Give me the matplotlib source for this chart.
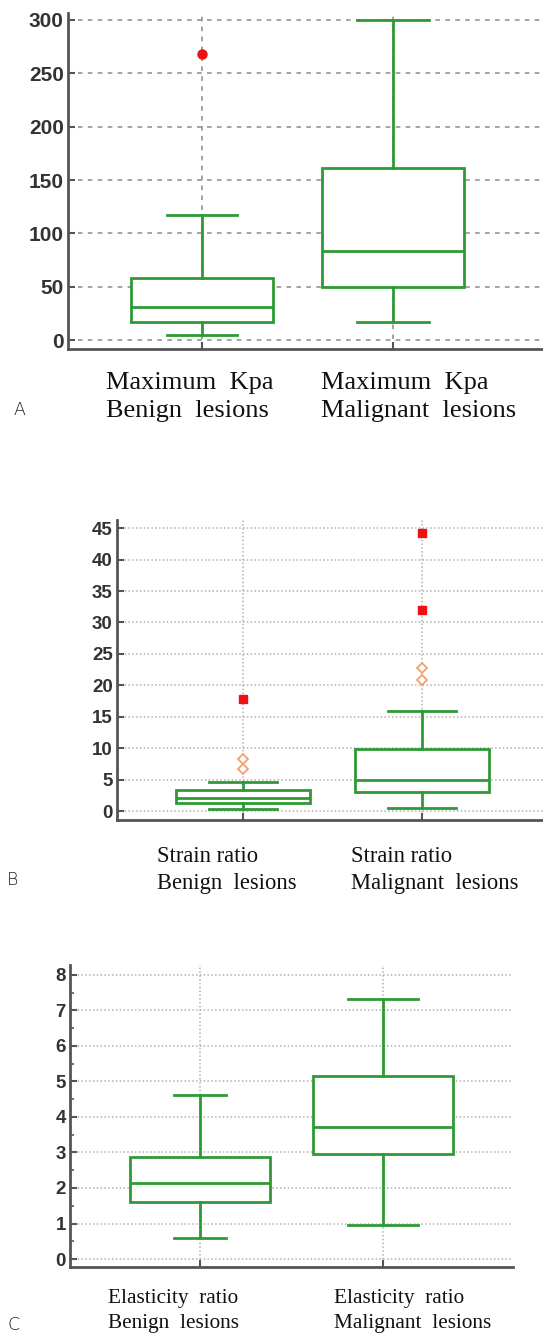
import matplotlib
matplotlib.use("Agg")
import matplotlib.pyplot as plt
from matplotlib.ticker import MultipleLocator

W, H = 543, 1334

# panel A - Maximum Kpa
kpa_labels = ["Maximum  Kpa\nBenign  lesions", "Maximum  Kpa\nMalignant  lesions"]
kpa_low = [5, 17]
kpa_q1 = [17, 50]
kpa_med = [31, 83]
kpa_q3 = [58, 161]
kpa_high = [117, 300]
kpa_far = [[268], []]
kpa_near = [[], []]

# panel B - strain ratio
sr_labels = ["Strain ratio\nBenign  lesions", "Strain ratio\nMalignant  lesions"]
sr_low = [0.3, 0.4]
sr_q1 = [1.2, 3.0]
sr_med = [2.1, 5.0]
sr_q3 = [3.3, 9.8]
sr_high = [4.6, 15.9]
sr_far = [[17.9], [32.0, 44.3]]
sr_near = [[6.7, 8.2], [20.8, 22.8]]

# panel C - elasticity ratio
er_labels = ["Elasticity  ratio\nBenign  lesions", "Elasticity  ratio\nMalignant  lesions"]
er_low = [0.6, 0.97]
er_q1 = [1.6, 2.95]
er_med = [2.15, 3.72]
er_q3 = [2.88, 5.15]
er_high = [4.62, 7.32]
er_far = [[], []]
er_near = [[], []]

green = "#2f9a35"
fig = plt.figure(figsize=(W / 100, H / 100), dpi=100)


def px_axes(left, top, right, bottom):
    return fig.add_axes([left / W, 1 - bottom / H, (right - left) / W, (bottom - top) / H])


def panel(ax, low, q1, med, q3, high, far, near, ylim, yticks, xlim, widths, caps,
          grid_ls, grid_col, tick_fs, marker, ms):
    stats = []
    for i in range(2):
        stats.append(dict(whislo=low[i], q1=q1[i], med=med[i], q3=q3[i], whishi=high[i], fliers=[]))
    ax.grid(True, linestyle=grid_ls, color=grid_col, linewidth=1.1, zorder=0)
    ax.set_axisbelow(True)
    lp = dict(color=green, linewidth=2)
    ax.bxp(stats, positions=[1, 2], widths=widths, capwidths=caps, showfliers=False,
           patch_artist=True,
           boxprops=dict(facecolor="white", edgecolor=green, linewidth=2),
           medianprops=lp, whiskerprops=lp, capprops=lp, zorder=3)
    for i in range(2):
        if far[i]:
            ax.plot([i + 1] * len(far[i]), far[i], marker, color="#ee1111",
                    markersize=ms, zorder=4, clip_on=False)
        if near[i]:
            ax.plot([i + 1] * len(near[i]), near[i], "D", mfc="white", mec="#f4a070",
                    markersize=5, mew=1.3, zorder=4)
    ax.set_xlim(*xlim)
    ax.set_ylim(*ylim)
    ax.set_yticks(yticks)
    ax.set_xticks([1, 2])
    ax.set_xticklabels(["", ""])
    for s in ["top", "right"]:
        ax.spines[s].set_visible(False)
    for s in ["left", "bottom"]:
        ax.spines[s].set_color("#555555")
        ax.spines[s].set_linewidth(2)
    ax.tick_params(direction="in", length=5, width=1.5, color="#555555", pad=3,
                   labelsize=tick_fs, labelcolor="#333333")
    for t in ax.get_yticklabels():
        t.set_fontweight("bold")
        t.set_family("Liberation Sans")


axA = px_axes(68, 12.5, 543, 349)
panel(axA, kpa_low, kpa_q1, kpa_med, kpa_q3, kpa_high, kpa_far, kpa_near,
      (-8.4, 307), [0, 50, 100, 150, 200, 250, 300], (0.298, 2.785), 0.745, [0.366, 0.38],
      (0, (3, 3.5)), "#8a8a8a", 15, "o", 6.5)

axB = px_axes(117, 520, 543, 820)
panel(axB, sr_low, sr_q1, sr_med, sr_q3, sr_high, sr_far, sr_near,
      (-1.43, 46.3), list(range(0, 50, 5)), (0.296, 2.676), 0.754, [0.38, 0.38],
      (0, (1, 1.5)), "#b0b0b0", 13.5, "s", 5.5)

axC = px_axes(70, 965, 513, 1267)
panel(axC, er_low, er_q1, er_med, er_q3, er_high, er_far, er_near,
      (-0.225, 8.28), list(range(0, 9)), (0.29, 2.71), 0.76, [0.28, 0.38],
      (0, (1, 1.5)), "#b0b0b0", 13.5, "s", 5.5)
axC.yaxis.set_minor_locator(MultipleLocator(0.5))
axC.tick_params(axis="y", which="minor", direction="in", length=3, width=1.2, color="#555555")


def ftext(x, y, s, **kw):
    fig.text(x / W, 1 - y / H, s, **kw)


serif = dict(family="Liberation Serif", color="#111111", va="center", ha="left", linespacing=1.38)
ftext(106, 397, kpa_labels[0], fontsize=19, **serif)
ftext(321, 397, kpa_labels[1], fontsize=19, **serif)
ftext(157, 870, sr_labels[0], fontsize=16.3, **serif)
ftext(351, 870, sr_labels[1], fontsize=16.3, **serif)
ftext(108, 1311, er_labels[0], fontsize=15.3, **serif)
ftext(334, 1311, er_labels[1], fontsize=15.3, **serif)

lett = dict(family="DejaVu Sans", fontsize=12.5, color="#222222", va="center", ha="center",
            fontweight="light")
ftext(19, 410, "A", **lett)
ftext(13, 880, "B", **lett)
ftext(14, 1325, "C", **lett)

fig.savefig("out.png", dpi=100, facecolor="white")
